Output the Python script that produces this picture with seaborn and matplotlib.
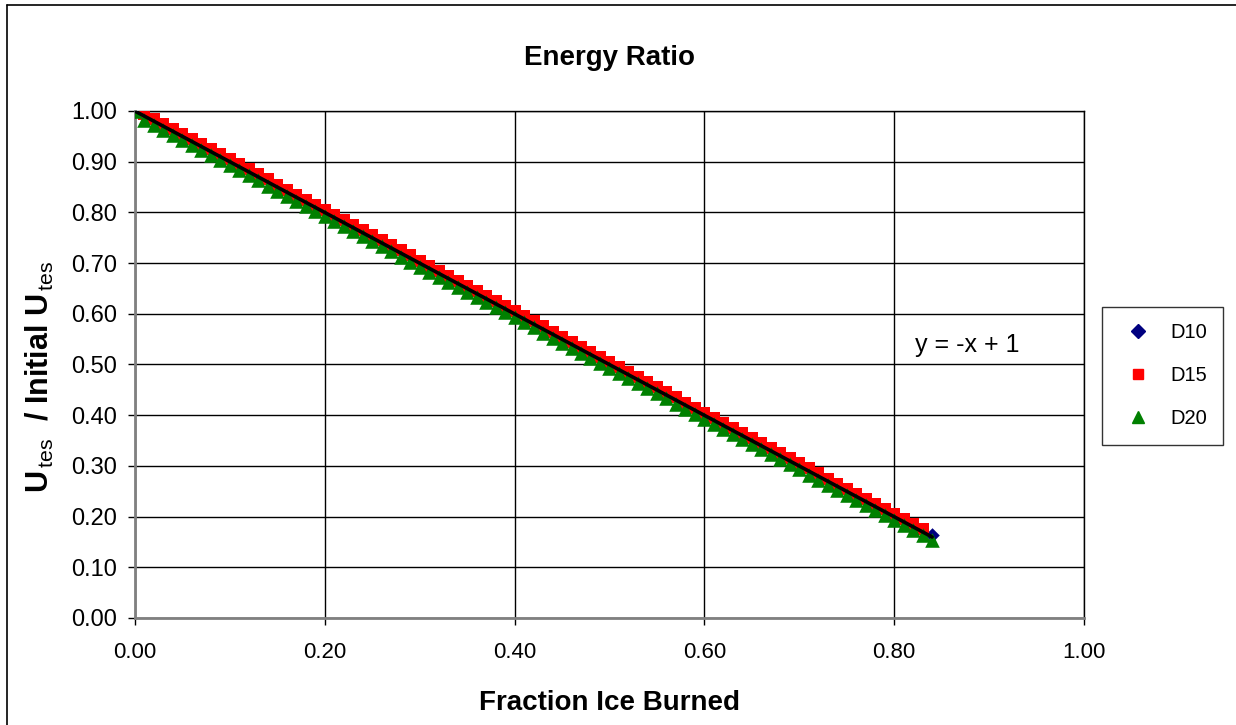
import numpy as np
import pandas as pd
import seaborn as sns
import matplotlib.pyplot as plt
from matplotlib.lines import Line2D

# Energy ratio vs fraction of ice burned
d10_x = [0.00, 0.02, 0.04, 0.06, 0.08, 0.10, 0.12, 0.14, 0.16, 0.18, 0.20, 0.22, 0.24, 0.26,
         0.28, 0.30, 0.32, 0.34, 0.36, 0.38, 0.40, 0.42, 0.44, 0.46, 0.48, 0.50, 0.52, 0.54,
         0.56, 0.58, 0.60, 0.62, 0.64, 0.66, 0.68, 0.70, 0.72, 0.74, 0.76, 0.78, 0.80, 0.82, 0.84]
d10_y = [1.000, 0.983, 0.963, 0.943, 0.923, 0.903, 0.883, 0.863, 0.843, 0.823, 0.803, 0.783,
         0.763, 0.743, 0.723, 0.703, 0.683, 0.663, 0.643, 0.623, 0.603, 0.583, 0.563, 0.543,
         0.523, 0.503, 0.483, 0.463, 0.443, 0.423, 0.403, 0.383, 0.363, 0.343, 0.323, 0.303,
         0.283, 0.263, 0.243, 0.223, 0.203, 0.183, 0.163]

d15_x = [0.00, 0.01, 0.02, 0.03, 0.04, 0.05, 0.06, 0.07, 0.08, 0.09,
         0.10, 0.11, 0.12, 0.13, 0.14, 0.15, 0.16, 0.17, 0.18, 0.19,
         0.20, 0.21, 0.22, 0.23, 0.24, 0.25, 0.26, 0.27, 0.28, 0.29,
         0.30, 0.31, 0.32, 0.33, 0.34, 0.35, 0.36, 0.37, 0.38, 0.39,
         0.40, 0.41, 0.42, 0.43, 0.44, 0.45, 0.46, 0.47, 0.48, 0.49,
         0.50, 0.51, 0.52, 0.53, 0.54, 0.55, 0.56, 0.57, 0.58, 0.59,
         0.60, 0.61, 0.62, 0.63, 0.64, 0.65, 0.66, 0.67, 0.68, 0.69,
         0.70, 0.71, 0.72, 0.73, 0.74, 0.75, 0.76, 0.77, 0.78, 0.79,
         0.80, 0.81, 0.82, 0.83]
d15_y = [1.000, 0.995, 0.985, 0.975, 0.965, 0.955, 0.945, 0.935, 0.925, 0.915,
         0.905, 0.895, 0.885, 0.875, 0.865, 0.855, 0.845, 0.835, 0.825, 0.815,
         0.805, 0.795, 0.785, 0.775, 0.765, 0.755, 0.745, 0.735, 0.725, 0.715,
         0.705, 0.695, 0.685, 0.675, 0.665, 0.655, 0.645, 0.635, 0.625, 0.615,
         0.605, 0.595, 0.585, 0.575, 0.565, 0.555, 0.545, 0.535, 0.525, 0.515,
         0.505, 0.495, 0.485, 0.475, 0.465, 0.455, 0.445, 0.435, 0.425, 0.415,
         0.405, 0.395, 0.385, 0.375, 0.365, 0.355, 0.345, 0.335, 0.325, 0.315,
         0.305, 0.295, 0.285, 0.275, 0.265, 0.255, 0.245, 0.235, 0.225, 0.215,
         0.205, 0.195, 0.185, 0.175]

d20_x = [0.00, 0.01, 0.02, 0.03, 0.04, 0.05, 0.06, 0.07, 0.08, 0.09,
         0.10, 0.11, 0.12, 0.13, 0.14, 0.15, 0.16, 0.17, 0.18, 0.19,
         0.20, 0.21, 0.22, 0.23, 0.24, 0.25, 0.26, 0.27, 0.28, 0.29,
         0.30, 0.31, 0.32, 0.33, 0.34, 0.35, 0.36, 0.37, 0.38, 0.39,
         0.40, 0.41, 0.42, 0.43, 0.44, 0.45, 0.46, 0.47, 0.48, 0.49,
         0.50, 0.51, 0.52, 0.53, 0.54, 0.55, 0.56, 0.57, 0.58, 0.59,
         0.60, 0.61, 0.62, 0.63, 0.64, 0.65, 0.66, 0.67, 0.68, 0.69,
         0.70, 0.71, 0.72, 0.73, 0.74, 0.75, 0.76, 0.77, 0.78, 0.79,
         0.80, 0.81, 0.82, 0.83, 0.84]
d20_y = [1.000, 0.983, 0.973, 0.963, 0.953, 0.943, 0.933, 0.923, 0.913, 0.903,
         0.893, 0.883, 0.873, 0.863, 0.853, 0.843, 0.833, 0.823, 0.813, 0.803,
         0.793, 0.783, 0.773, 0.763, 0.753, 0.743, 0.733, 0.723, 0.713, 0.703,
         0.693, 0.683, 0.673, 0.663, 0.653, 0.643, 0.633, 0.623, 0.613, 0.603,
         0.593, 0.583, 0.573, 0.563, 0.553, 0.543, 0.533, 0.523, 0.513, 0.503,
         0.493, 0.483, 0.473, 0.463, 0.453, 0.443, 0.433, 0.423, 0.413, 0.403,
         0.393, 0.383, 0.373, 0.363, 0.353, 0.343, 0.333, 0.323, 0.313, 0.303,
         0.293, 0.283, 0.273, 0.263, 0.253, 0.243, 0.233, 0.223, 0.213, 0.203,
         0.193, 0.183, 0.173, 0.163, 0.153]

series = ['D10', 'D15', 'D20']
colors = {'D10': '#000080', 'D15': '#FF0000', 'D20': '#008000'}
markers = {'D10': 'D', 'D15': 's', 'D20': '^'}
sizes = {'D10': 55, 'D15': 70, 'D20': 110}

df = pd.concat([
    pd.DataFrame({'x': d10_x, 'y': d10_y, 'Series': 'D10'}),
    pd.DataFrame({'x': d15_x, 'y': d15_y, 'Series': 'D15'}),
    pd.DataFrame({'x': d20_x, 'y': d20_y, 'Series': 'D20'}),
], ignore_index=True)

sns.set_style('white')
plt.rcParams['font.family'] = ['Liberation Sans', 'DejaVu Sans']
plt.rcParams['text.color'] = 'black'
plt.rcParams['axes.labelcolor'] = 'black'
plt.rcParams['xtick.color'] = 'black'
plt.rcParams['ytick.color'] = 'black'
plt.rcParams['mathtext.fontset'] = 'custom'
plt.rcParams['mathtext.rm'] = 'Liberation Sans'
plt.rcParams['mathtext.bf'] = 'Liberation Sans:bold'

fig = plt.figure(figsize=(12.36, 7.25), dpi=100)
ax = fig.add_axes([0.1092, 0.1476, 0.7678, 0.6993])

for s in series:
    sub = df[df['Series'] == s]
    sns.scatterplot(data=sub, x='x', y='y', color=colors[s], marker=markers[s],
                    s=sizes[s], linewidth=0, ax=ax, zorder=3)

# linear trend line through all points
slope, icpt = np.polyfit(df['x'], df['y'], 1)
tx = np.array([df['x'].min(), df['x'].max()])
ax.plot(tx, slope * tx + icpt, color='black', lw=2.6, zorder=4)

ax.set_xlim(0, 1)
ax.set_ylim(0, 1)
ax.set_xticks(np.arange(0, 1.01, 0.2))
ax.set_yticks(np.arange(0, 1.01, 0.1))
ax.xaxis.set_major_formatter(plt.FormatStrFormatter('%.2f'))
ax.yaxis.set_major_formatter(plt.FormatStrFormatter('%.2f'))
ax.grid(True, color='black', lw=1)
ax.set_axisbelow(True)
ax.tick_params(axis='both', direction='out', length=5, width=1, color='black',
               labelcolor='black', bottom=True, left=True)
ax.tick_params(axis='x', pad=12, labelsize=16)
ax.tick_params(axis='y', pad=8, labelsize=17)
for sp in ax.spines.values():
    sp.set_color('black')
    sp.set_linewidth(1)
ax.spines['left'].set_color('#808080')
ax.spines['bottom'].set_color('#808080')
ax.spines['left'].set_linewidth(2)
ax.spines['bottom'].set_linewidth(2)

ax.set_xlabel('Fraction Ice Burned', fontsize=20, fontweight='bold', labelpad=20)
ax.set_ylabel(r'$\mathbf{U}_{\mathrm{\,tes}}$  / Initial $\mathbf{U}_{\mathrm{\,tes}}$',
              fontsize=22, fontweight='bold')
ax.yaxis.set_label_coords(-0.083, 0.475)
ax.set_title('Energy Ratio', fontsize=20, fontweight='bold', pad=33)
ax.text(0.877, 0.538, 'y = -x + 1', fontsize=18, transform=ax.transAxes,
        ha='center', va='center')

handles = [Line2D([], [], linestyle='none', marker=markers[s], color=colors[s],
                  markersize={'D10': 7, 'D15': 7.5, 'D20': 8.5}[s]) for s in series]
leg = fig.legend(handles, series, loc='upper left', bbox_to_anchor=(0.8916, 0.5766),
                 bbox_transform=fig.transFigure, fontsize=14.5, frameon=True, fancybox=False,
                 labelspacing=1.2, borderpad=0.8, handletextpad=0.6, borderaxespad=0)
leg.get_frame().set_edgecolor('black')
leg.get_frame().set_linewidth(1)

# outer chart border (top and left edges visible)
fig.add_artist(Line2D([7 / 1236, 1.0], [1 - 5 / 725, 1 - 5 / 725], color='black', lw=1.2,
                      transform=fig.transFigure))
fig.add_artist(Line2D([7 / 1236, 7 / 1236], [0, 1 - 5 / 725], color='black', lw=1.2,
                      transform=fig.transFigure))

fig.savefig('out.png', dpi=100)
